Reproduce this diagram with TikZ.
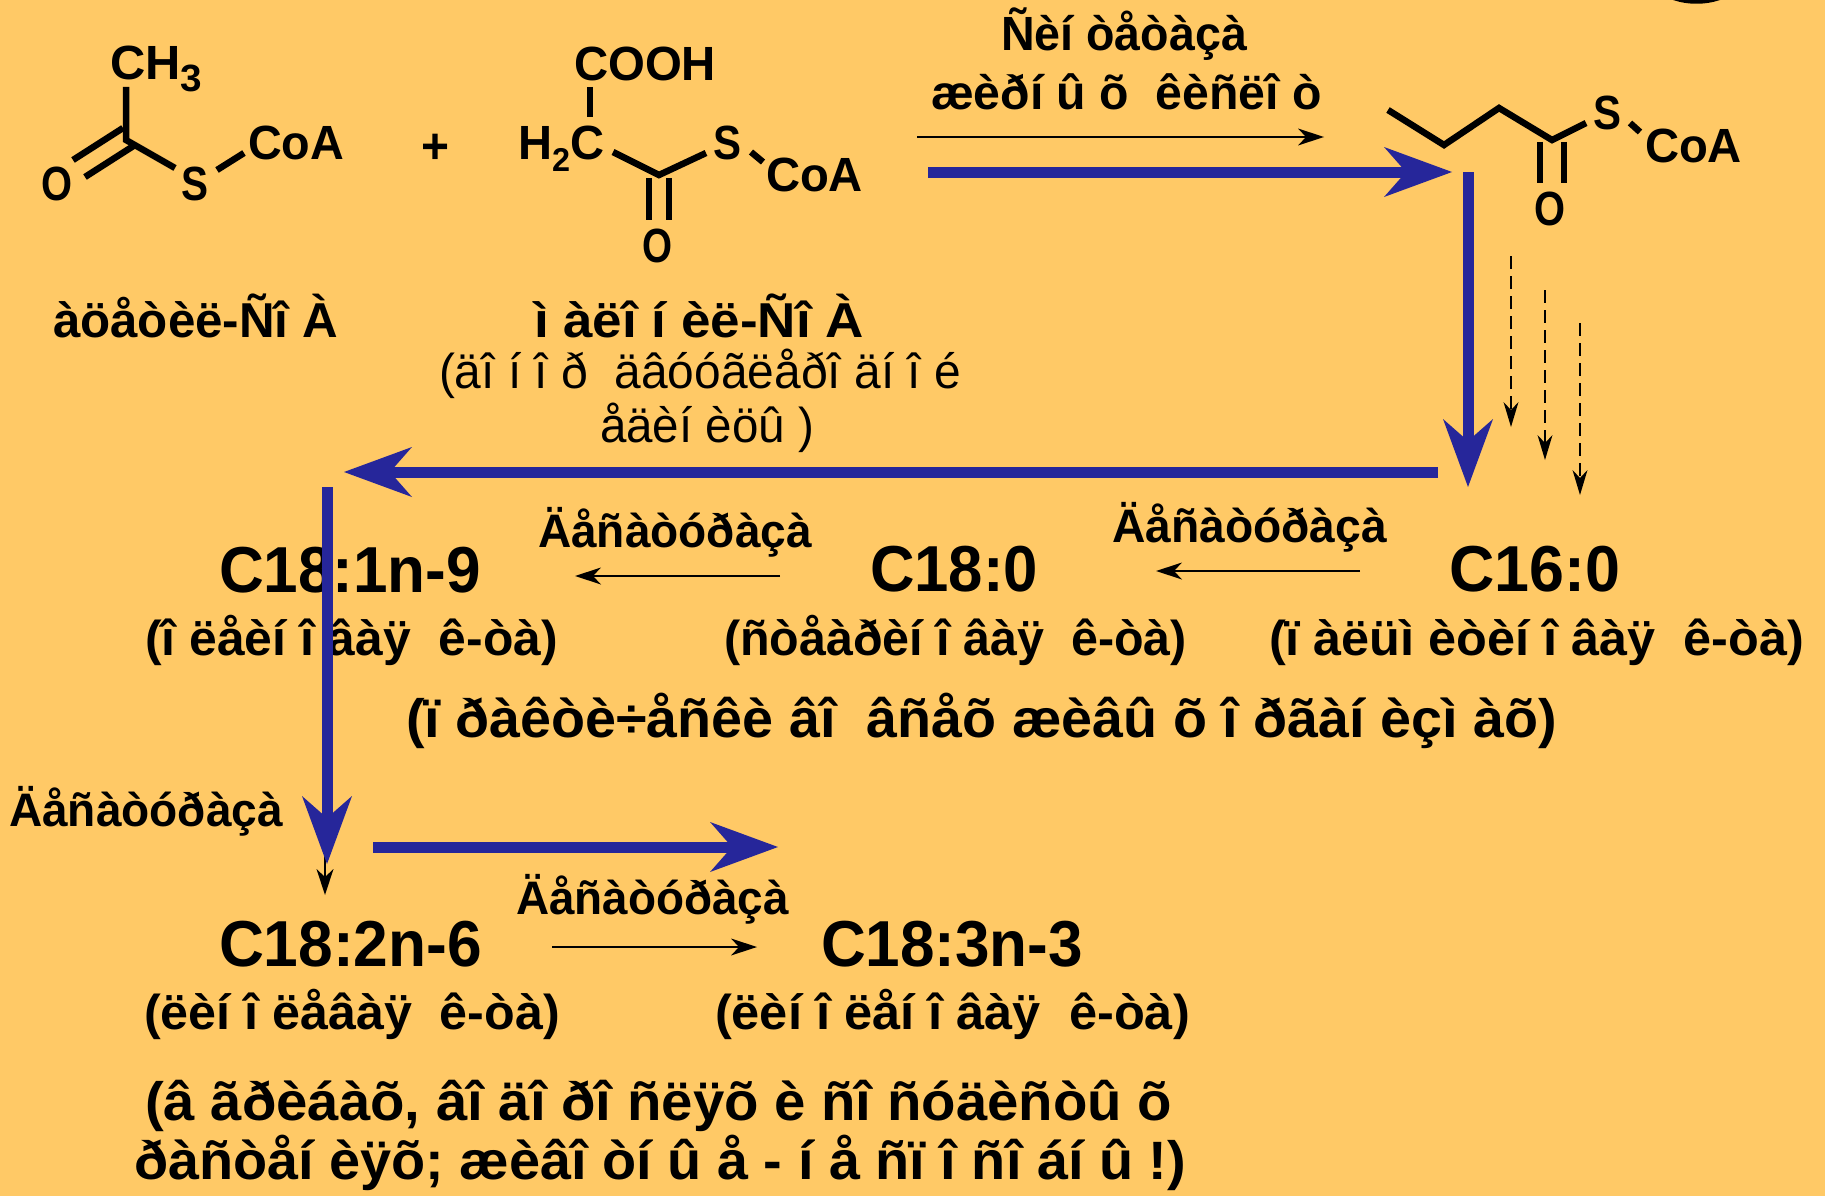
\documentclass[tikz,border=0pt]{standalone}
\usepackage{fontspec}
\setmainfont{Liberation Sans}
\usetikzlibrary{arrows.meta}
\definecolor{bgc}{HTML}{FFC966}
\definecolor{bluec}{HTML}{26269A}
% width-fitted text: target width in px, font size in px, content
\newcommand{\fitbox}[3]{\setbox0=\hbox{\fontsize{#2}{#2}\selectfont #3}%
  \pgfmathsetmacro{\myratio}{#1/(\the\wd0/1pt)}%
  \scalebox{\myratio}[1]{\box0}}
\newcommand{\lbl}[7]{\node[anchor=base west,inner sep=0pt,outer sep=0pt,font=#5] (#1) at (#2,#3) {\fitbox{#4}{#6}{#7}};}
\newcommand{\subs}[2]{\raisebox{-12pt}{\fontsize{#1}{#1}\selectfont #2}}
\tikzset{
  bond/.style={line width=6.5pt,black,line cap=butt,line join=miter},
  bluearrow/.style={draw=bluec,line width=11pt,-{Stealth[length=68pt,width=50pt,inset=22pt,line width=0pt]}},
  thinarrow/.style={draw=black,line width=2.5pt,-{Stealth[length=26pt,width=17pt,inset=8pt,line width=0pt]}},
  dasharrow/.style={draw=black,line width=2.3pt,dash pattern=on 13pt off 7pt,-{Stealth[length=25pt,width=15pt,inset=8pt,line width=0pt]}}
}
\begin{document}
\begin{tikzpicture}[x=1pt,y=-1pt]
\useasboundingbox (0,0) rectangle (1825,1196);
\fill[bgc] (0,0) rectangle (1825,1196);
\fill[black] (1673,0) .. controls (1688,5) and (1705,5) .. (1720,0) -- cycle;
% left molecule
\lbl{ch}{110}{80}{92}{\bfseries}{48}{CH\subs{38}{3}}
\lbl{oa}{41}{200}{31}{\bfseries}{48}{O}
\lbl{sa}{181}{200}{27}{\bfseries}{48}{S}
\lbl{coaa}{248}{160}{96}{\bfseries}{48}{CoA}
\coordinate (c1) at (126,140);
\draw[bond] (126,87) -- (c1) -- (175,168);
\draw[bond] (123,128) -- (73,160);
\draw[bond] (135,145) -- (85,177);
\draw[bond] (217,170) -- (244,153);
\lbl{plus}{421}{163}{28}{\bfseries}{50}{+}
% middle molecule
\lbl{cooh}{574}{81}{142}{\bfseries}{48}{COOH}
\lbl{hc}{518}{160}{86}{\bfseries}{48}{H\subs{33}{2}C}
\lbl{sb}{713}{160}{28}{\bfseries}{48}{S}
\lbl{coab}{766}{191}{97}{\bfseries}{48}{CoA}
\lbl{ob}{642}{262}{30}{\bfseries}{48}{O}
\coordinate (c2) at (659,175);
\draw[bond] (590,87) -- (590,117);
\draw[bond] (613,152) -- (c2) -- (706,153);
\draw[bond] (649,178) -- (649,220);
\draw[bond] (669,178) -- (669,220);
\draw[bond] (751,152) -- (763,162);
% right molecule
\lbl{sc}{1593}{130}{28}{\bfseries}{48}{S}
\lbl{coac}{1645}{162}{97}{\bfseries}{48}{CoA}
\lbl{oc}{1534}{225}{31}{\bfseries}{48}{O}
\draw[bond] (1388,110) -- (1444,145) -- (1499,108) -- (1552,140) -- (1586,123);
\draw[bond] (1540,142) -- (1540,183);
\draw[bond] (1564,142) -- (1564,183);
\draw[bond] (1630,123) -- (1640,132);
% labels
\lbl{acetyl}{53}{337}{285}{\bfseries}{49}{àöåòèë-Ñî À}
\lbl{malonyl}{534}{337}{330}{\bfseries}{49}{ì àëî í èë-Ñî À}
\lbl{dona}{439}{388}{522}{\normalfont}{49}{(äî í î ð\ \ äâóóãëåðî äí î é}
\lbl{donb}{600}{442}{214}{\normalfont}{49}{åäèí èöû )}
\lbl{syna}{1001}{51}{246}{\bfseries}{48}{Ñèí òåòàçà}
\lbl{synb}{931}{110}{391}{\bfseries}{48}{æèðí û õ\ \ êèñëî ò}
\lbl{c181}{219}{592}{262}{\bfseries}{65}{C18:1n-9}
\lbl{c180}{870}{591}{168}{\bfseries}{65}{C18:0}
\lbl{c160}{1449}{591}{171}{\bfseries}{65}{C16:0}
\lbl{n181}{145}{655}{413}{\bfseries}{49}{(î ëåèí î âàÿ\ \ ê-òà)}
\lbl{n180}{724}{655}{463}{\bfseries}{49}{(ñòåàðèí î âàÿ\ \ ê-òà)}
\lbl{n160}{1269}{655}{535}{\bfseries}{49}{(ï àëüì èòèí î âàÿ\ \ ê-òà)}
\lbl{des1}{538}{547}{274}{\bfseries}{47}{Äåñàòóðàçà}
\lbl{des2}{1112}{542}{275}{\bfseries}{47}{Äåñàòóðàçà}
\lbl{des3}{9}{826}{274}{\bfseries}{47}{Äåñàòóðàçà}
\lbl{des4}{516}{914}{273}{\bfseries}{47}{Äåñàòóðàçà}
\lbl{prak}{406}{737}{1151}{\bfseries}{54}{(ï ðàêòè÷åñêè âî\ \ âñåõ æèâû õ î ðãàí èçì àõ)}
\lbl{c182}{219}{966}{263}{\bfseries}{65}{C18:2n-6}
\lbl{c183}{821}{966}{262}{\bfseries}{65}{C18:3n-3}
\lbl{n182}{144}{1029}{416}{\bfseries}{49}{(ëèí î ëåâàÿ\ \ ê-òà)}
\lbl{n183}{715}{1029}{475}{\bfseries}{49}{(ëèí î ëåí î âàÿ\ \ ê-òà)}
\lbl{gra}{145}{1120}{1027}{\bfseries}{54}{(â ãðèáàõ, âî äî ðî ñëÿõ è ñî ñóäèñòû õ}
\lbl{grb}{134}{1179}{1052}{\bfseries}{54}{ðàñòåí èÿõ; æèâî òí û å - í å ñï î ñî áí û !)}
% thin arrows
\coordinate (t1a) at (917,137); \coordinate (t1b) at (1324,137);
\coordinate (t2a) at (1360,571); \coordinate (t2b) at (1156,571);
\coordinate (t3a) at (780,576); \coordinate (t3b) at (575,576);
\coordinate (t4a) at (325,850); \coordinate (t4b) at (325,895);
\coordinate (t5a) at (552,947); \coordinate (t5b) at (757,947);
\draw[thinarrow] (t1a) -- (t1b);
\draw[thinarrow] (t2a) -- (t2b);
\draw[thinarrow] (t3a) -- (t3b);
\draw[thinarrow] (t4a) -- (t4b);
\draw[thinarrow] (t5a) -- (t5b);
% dashed arrows
\coordinate (d1a) at (1511,256); \coordinate (d1b) at (1511,427);
\coordinate (d2a) at (1545,290); \coordinate (d2b) at (1545,460);
\coordinate (d3a) at (1580,323); \coordinate (d3b) at (1580,495);
\draw[dasharrow] (d1a) -- (d1b);
\draw[dasharrow] (d2a) -- (d2b);
\draw[dasharrow] (d3a) -- (d3b);
% blue arrows
\coordinate (b1a) at (928,172); \coordinate (b1b) at (1452,172);
\coordinate (b2a) at (1468,172); \coordinate (b2b) at (1468,487);
\coordinate (b3a) at (1438,472); \coordinate (b3b) at (344,472);
\coordinate (b4a) at (327,487); \coordinate (b4b) at (327,864);
\coordinate (b5a) at (373,847); \coordinate (b5b) at (778,847);
\draw[bluearrow] (b1a) -- (b1b);
\draw[bluearrow] (b2a) -- (b2b);
\draw[bluearrow] (b3a) -- (b3b);
\draw[bluearrow] (b4a) -- (b4b);
\draw[bluearrow] (b5a) -- (b5b);
\end{tikzpicture}
\end{document}
